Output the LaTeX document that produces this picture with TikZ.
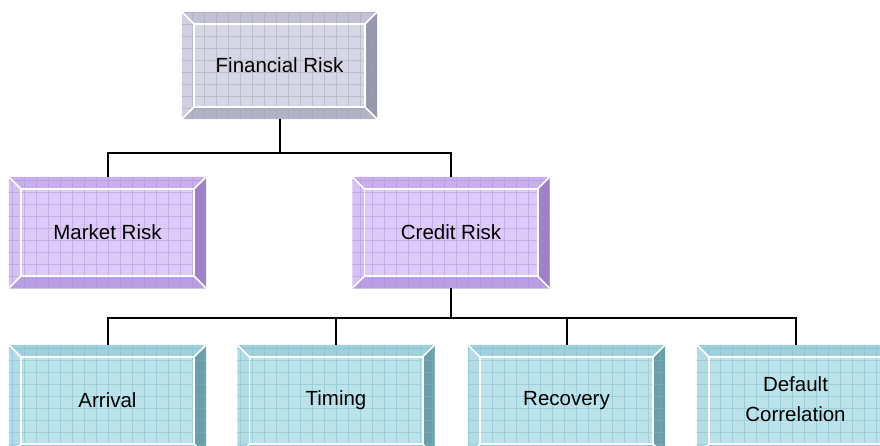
\documentclass[tikz,border=0pt]{standalone}
\usepackage{fontspec}
\setmainfont{Liberation Sans}
\usetikzlibrary{calc}
\definecolor{gface}{RGB}{214,214,228}
\definecolor{gtop}{RGB}{194,194,210}
\definecolor{gleft}{RGB}{208,208,224}
\definecolor{gright}{RGB}{150,150,174}
\definecolor{gbot}{RGB}{178,178,198}
\definecolor{ggrid}{RGB}{160,160,185}
\definecolor{pface}{RGB}{222,202,248}
\definecolor{ptop}{RGB}{200,176,238}
\definecolor{pleft}{RGB}{214,192,246}
\definecolor{pright}{RGB}{158,128,198}
\definecolor{pbot}{RGB}{184,158,226}
\definecolor{pgrid}{RGB}{170,140,215}
\definecolor{tface}{RGB}{188,226,234}
\definecolor{ttop}{RGB}{160,208,220}
\definecolor{tleft}{RGB}{180,220,230}
\definecolor{tright}{RGB}{108,158,170}
\definecolor{tbot}{RGB}{140,192,206}
\definecolor{tgrid}{RGB}{120,185,200}
\tikzset{
  boxbase/.style={draw=none, inner sep=0pt, minimum width=#1},
  label/.style={font=\fontsize{20.5}{30}\selectfont, align=center, text=black},
  conn/.style={draw=black, line width=2pt},
}
\newcommand\bevelbox[2]{%
  \fill[#2top] (#1.north west) -- (#1.north east) -- ($(#1.north east)+(-12pt,-12pt)$) -- ($(#1.north west)+(12pt,-12pt)$) -- cycle;
  \fill[#2right] (#1.north east) -- (#1.south east) -- ($(#1.south east)+(-12pt,12pt)$) -- ($(#1.north east)+(-12pt,-12pt)$) -- cycle;
  \fill[#2bot] (#1.south east) -- (#1.south west) -- ($(#1.south west)+(12pt,12pt)$) -- ($(#1.south east)+(-12pt,12pt)$) -- cycle;
  \fill[#2left] (#1.south west) -- (#1.north west) -- ($(#1.north west)+(12pt,-12pt)$) -- ($(#1.south west)+(12pt,12pt)$) -- cycle;
  \begin{scope}
    \clip (#1.north west) rectangle (#1.south east);
    \draw[#2grid, line width=0.6pt, opacity=0.45, step=12pt] (#1.north west) grid (#1.south east);
  \end{scope}
  \draw[white, line width=1.6pt] ($(#1.north west)+(12pt,-12pt)$) rectangle ($(#1.south east)+(-12pt,12pt)$);
  \draw[white, line width=1.6pt] (#1.north west) -- ($(#1.north west)+(12pt,-12pt)$)
    (#1.north east) -- ($(#1.north east)+(-12pt,-12pt)$)
    (#1.south east) -- ($(#1.south east)+(-12pt,12pt)$)
    (#1.south west) -- ($(#1.south west)+(12pt,12pt)$);
}
\begin{document}
\begin{tikzpicture}[x=1pt,y=-1pt]
\useasboundingbox (0,0) rectangle (880,446);
\clip (0,0) rectangle (880,446);
\fill[white] (0,0) rectangle (880,446);
% boxes
\node[boxbase=195pt, minimum height=107pt, fill=gface] (fin) at (279.5,65.5) {};
\node[boxbase=197pt, minimum height=111pt, fill=pface] (mkt) at (107.5,232.5) {};
\node[boxbase=197pt, minimum height=111pt, fill=pface] (crd) at (451,232.5) {};
\node[boxbase=197pt, minimum height=111pt, fill=tface] (arr) at (107.5,400.5) {};
\node[boxbase=197pt, minimum height=111pt, fill=tface] (tim) at (336,400.5) {};
\node[boxbase=197pt, minimum height=111pt, fill=tface] (rec) at (566.5,400.5) {};
\node[boxbase=197pt, minimum height=111pt, fill=tface] (dfc) at (795.5,400.5) {};
\bevelbox{fin}{g}
\bevelbox{mkt}{p}
\bevelbox{crd}{p}
\bevelbox{arr}{t}
\bevelbox{tim}{t}
\bevelbox{rec}{t}
\bevelbox{dfc}{t}
% labels
\node[label] (fin-t) at (fin) {Financial Risk};
\node[label] (mkt-t) at (mkt) {Market Risk};
\node[label] (crd-t) at (crd) {Credit Risk};
\node[label] (arr-t) at (arr) {Arrival};
\node[label] (tim-t) at (tim) {Timing};
\node[label] (rec-t) at (rec) {Recovery};
\node[label] (dfc-t) at ($(dfc)+(0,-1)$) {Default\\Correlation};
% connectors
\draw[conn] (fin.south) -- ++(0,34) coordinate (j1);
\draw[conn] (j1) -| (mkt.north);
\draw[conn] (j1) -| (crd.north);
\draw[conn] (crd.south) -- ++(0,30) coordinate (j2);
\draw[conn] (j2) -| (arr.north);
\draw[conn] (j2) -| (tim.north);
\draw[conn] (j2) -| (rec.north);
\draw[conn] (j2) -| (dfc.north);
\end{tikzpicture}
\end{document}
